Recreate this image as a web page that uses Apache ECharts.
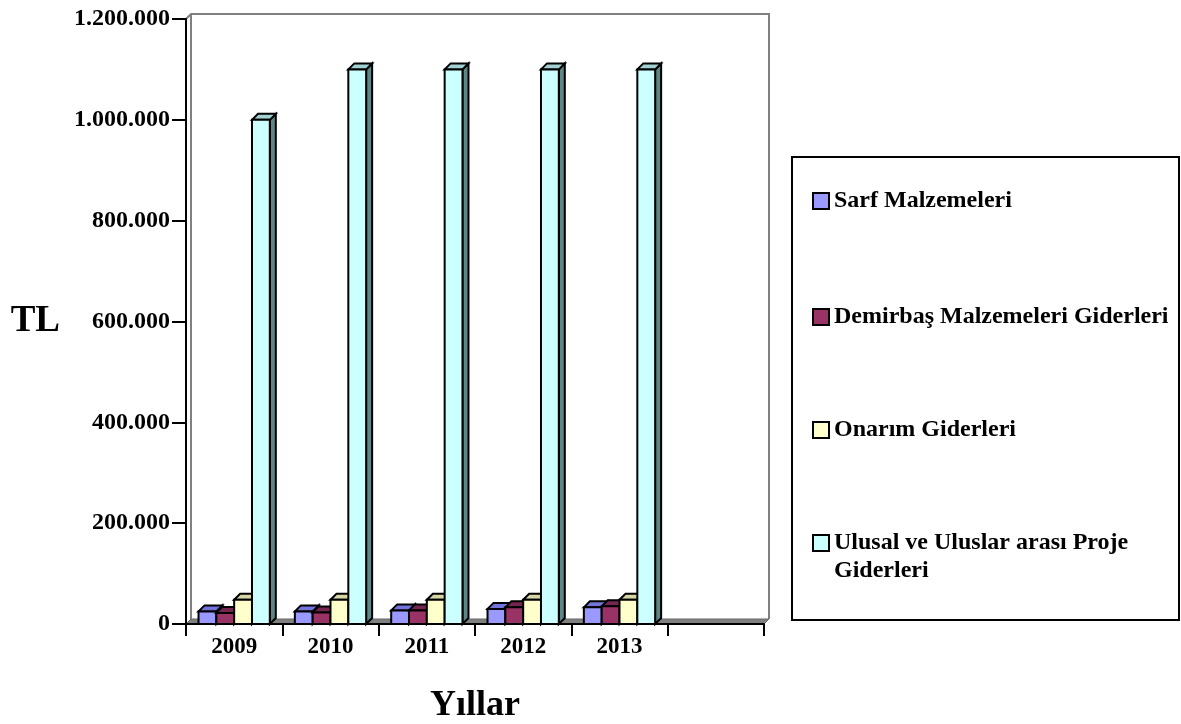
<!DOCTYPE html>
<html>
<head>
<meta charset="utf-8">
<title>Giderler</title>
<script src="https://cdn.jsdelivr.net/npm/echarts@6/dist/echarts.min.js"></script>
<style>
  html, body { margin: 0; padding: 0; background: #fff; }
</style>
</head>
<body>
<div id="chartmain" style="width:1181px; height:724px;"></div>
<script type="text/javascript">
    // kategoriler (son dilim boş)
    var years = ['2009', '2010', '2011', '2012', '2013', ''];
    var yTicks = [0, 200000, 400000, 600000, 800000, 1000000, 1200000];

    var sarf = [25000, 25000, 27000, 30000, 33000];
    var demirbas = [22000, 23000, 27000, 33000, 35000];
    var onarim = [48000, 48000, 48000, 48000, 48000];
    var ulusal = [1000000, 1100000, 1100000, 1100000, 1100000];

    var names = ['Sarf Malzemeleri', 'Demirbaş Malzemeleri Giderleri', 'Onarım Giderleri', 'Ulusal ve Uluslar arası Proje Giderleri'];
    var values = [sarf, demirbas, onarim, ulusal];
    // ön / üst / yan renkleri
    var colors = [
        ['#9999ff', '#7373d9', '#5c5cb3'],
        ['#993366', '#742650', '#5c1e40'],
        ['#ffffcc', '#d6d6a6', '#b3b38a'],
        ['#ccffff', '#a3d1d1', '#5f8585']
    ];

    var font = "'Liberation Serif', 'Times New Roman', serif";
    var L = 186, T = 19, R = 764, B = 624, D = 5;

    function fmt(v) {
        return String(v).replace(/\B(?=(\d{3})+(?!\d))/g, '.');
    }

    // 3 boyutlu sütun
    function bar3d(idx) {
        var c = colors[idx];
        return function (params, api) {
            var base = api.coord([api.value(0), 0]);
            var top = api.coord([api.value(0), api.value(1)]);
            var band = api.size([1, 0])[0];
            var w = band * 0.74 / 4;
            var x0 = base[0] - 2 * w + idx * w;
            var x1 = x0 + w;
            var yb = base[1], yt = top[1];
            var d = 6;
            var st = { stroke: '#000', lineWidth: 2, lineJoin: 'miter' };
            return {
                type: 'group',
                children: [
                    { type: 'polygon', shape: { points: [[x1, yb], [x1 + d, yb - d], [x1 + d, yt - d], [x1, yt]] },
                      style: Object.assign({ fill: c[2] }, st) },
                    { type: 'polygon', shape: { points: [[x0, yt], [x0 + d, yt - d], [x1 + d, yt - d], [x1, yt]] },
                      style: Object.assign({ fill: c[1] }, st) },
                    { type: 'rect', shape: { x: x0, y: yt, width: w, height: yb - yt },
                      style: Object.assign({ fill: c[0] }, st) }
                ]
            };
        };
    }

    var series = values.map(function (arr, i) {
        return {
            name: names[i],
            type: 'custom',
            renderItem: bar3d(i),
            itemStyle: { color: colors[i][0] },
            encode: { x: 0, y: 1 },
            data: arr.map(function (v, k) { return [k, v]; })
        };
    });

    var legendCenters = [201, 317, 430, 543];
    var legends = names.map(function (n, i) {
        var lg = {
            data: [n],
            orient: 'vertical',
            left: 812,
            top: legendCenters[i] - 14,
            padding: 0,
            icon: 'rect',
            itemWidth: 16,
            itemHeight: 16,
            itemGap: 0,
            itemStyle: { borderColor: '#000', borderWidth: 2 },
            selectedMode: false,
            textStyle: { fontFamily: font, fontWeight: 'bold', fontSize: 24, color: '#000', lineHeight: 28 }
        };
        if (i === 3) {
            // ikon ilk satırla hizalansın diye üstte boş satır
            lg.top = legendCenters[i] - 42;
            lg.formatter = function () { return ' \nUlusal ve Uluslar arası Proje\nGiderleri'; };
        }
        return lg;
    });

    var option = {
        animation: false,
        backgroundColor: '#fff',
        grid: { left: L, top: T, right: 1181 - R, bottom: 724 - B, outerBoundsMode: 'none', containLabel: false },
        legend: legends,
        xAxis: {
            type: 'category',
            data: years,
            name: 'Yıllar',
            nameLocation: 'middle',
            nameGap: 64,
            nameTextStyle: { fontFamily: font, fontWeight: 'bold', fontSize: 36, color: '#000' },
            axisLine: { show: true, lineStyle: { color: '#000', width: 2 } },
            axisTick: { show: true, alignWithLabel: false, interval: 0, length: 12, lineStyle: { color: '#000', width: 2 } },
            axisLabel: { interval: 0, margin: 12, fontFamily: font, fontWeight: 'bold', fontSize: 23, color: '#000' }
        },
        yAxis: {
            type: 'value',
            min: yTicks[0],
            max: yTicks[yTicks.length - 1],
            interval: yTicks[1] - yTicks[0],
            name: 'TL',
            nameLocation: 'middle',
            nameRotate: 0,
            nameGap: 126,
            nameTextStyle: { fontFamily: font, fontWeight: 'bold', fontSize: 37, color: '#000' },
            axisLine: { show: true, lineStyle: { color: '#000', width: 2 } },
            axisTick: { show: true, length: 14, lineStyle: { color: '#000', width: 2 } },
            axisLabel: { margin: 16, fontFamily: font, fontWeight: 'bold', fontSize: 24, color: '#000', formatter: fmt },
            splitLine: { show: false }
        },
        graphic: [
            // arka duvar
            { type: 'polyline', z: -10, shape: { points: [[L, T], [L + D, T - D], [R + D, T - D], [R + D, B - D]] },
              style: { stroke: '#808080', lineWidth: 2, fill: null } },
            { type: 'line', z: -10, shape: { x1: L + D, y1: T - D, x2: L + D, y2: B - D },
              style: { stroke: '#808080', lineWidth: 2 } },
            // zemin
            { type: 'polygon', z: -10, shape: { points: [[L, B], [L + D, B - D], [R + D, B - D], [R, B]] },
              style: { fill: '#808080', stroke: '#666', lineWidth: 1 } },
            // lejant kutusu
            { type: 'rect', z: -10, shape: { x: 792, y: 157, width: 387, height: 463 },
              style: { fill: null, stroke: '#000', lineWidth: 2 } }
        ],
        series: series
    };

    var myChart = echarts.init(document.getElementById('chartmain'));
    myChart.setOption(option);
</script>
</body>
</html>
